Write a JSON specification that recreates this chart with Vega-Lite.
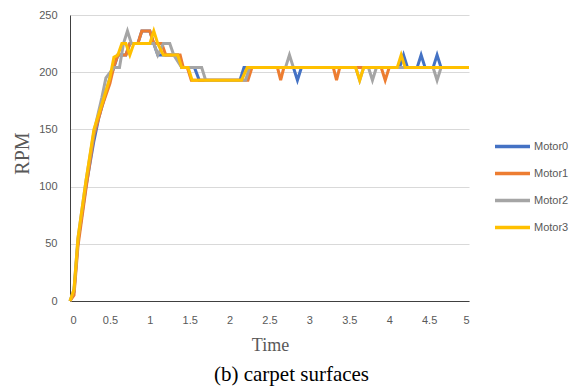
{
  "$schema": "https://vega.github.io/schema/vega-lite/v6.json",
  "autosize": {"type": "none"},
  "width": 399,
  "height": 286,
  "padding": {"left": 70, "top": 15, "right": 107, "bottom": 86},
  "background": "white",
  "title": {
    "text": "(b) carpet surfaces",
    "orient": "bottom",
    "anchor": "middle",
    "frame": "group",
    "dx": 22,
    "offset": 10,
    "font": "Liberation Serif",
    "fontSize": 21,
    "fontWeight": "normal",
    "color": "#000000"
  },
  "config": {
    "view": {"stroke": null},
    "axis": {
      "labelFont": "Liberation Sans",
      "labelFontSize": 11,
      "labelColor": "#595959",
      "titleFont": "Liberation Serif",
      "titleFontWeight": "normal",
      "titleColor": "#595959",
      "ticks": false,
      "domainColor": "#404040",
      "domainWidth": 1,
      "gridColor": "#d9d9d9",
      "gridWidth": 1
    },
    "legend": {
      "labelFont": "Liberation Sans",
      "labelFontSize": 11,
      "labelColor": "#595959"
    }
  },
  "data": {
    "values": [
      {"t":0,"m":"Motor0","v":0},{"t":0.05,"m":"Motor0","v":8},{"t":0.1,"m":"Motor0","v":52},{"t":0.2,"m":"Motor0","v":100},{"t":0.3,"m":"Motor0","v":140},{"t":0.36,"m":"Motor0","v":160},{"t":0.45,"m":"Motor0","v":182},{"t":0.5,"m":"Motor0","v":195},{"t":0.55,"m":"Motor0","v":204},{"t":0.6,"m":"Motor0","v":215},{"t":0.7,"m":"Motor0","v":215},{"t":0.75,"m":"Motor0","v":225},{"t":0.85,"m":"Motor0","v":225},{"t":0.9,"m":"Motor0","v":236},{"t":1.0,"m":"Motor0","v":236},{"t":1.05,"m":"Motor0","v":225},{"t":1.1,"m":"Motor0","v":215},{"t":1.35,"m":"Motor0","v":215},{"t":1.4,"m":"Motor0","v":204},{"t":1.56,"m":"Motor0","v":204},{"t":1.62,"m":"Motor0","v":193},{"t":2.13,"m":"Motor0","v":193},{"t":2.18,"m":"Motor0","v":204},{"t":2.8,"m":"Motor0","v":204},{"t":2.85,"m":"Motor0","v":193},{"t":2.9,"m":"Motor0","v":204},{"t":4.13,"m":"Motor0","v":204},{"t":4.18,"m":"Motor0","v":215},{"t":4.23,"m":"Motor0","v":204},{"t":4.35,"m":"Motor0","v":204},{"t":4.4,"m":"Motor0","v":215},{"t":4.45,"m":"Motor0","v":204},{"t":4.55,"m":"Motor0","v":204},{"t":4.6,"m":"Motor0","v":215},{"t":4.65,"m":"Motor0","v":204},{"t":5,"m":"Motor0","v":204},
      {"t":0,"m":"Motor1","v":0},{"t":0.05,"m":"Motor1","v":5},{"t":0.1,"m":"Motor1","v":48},{"t":0.2,"m":"Motor1","v":98},{"t":0.3,"m":"Motor1","v":145},{"t":0.4,"m":"Motor1","v":170},{"t":0.5,"m":"Motor1","v":190},{"t":0.55,"m":"Motor1","v":205},{"t":0.6,"m":"Motor1","v":215},{"t":0.7,"m":"Motor1","v":215},{"t":0.75,"m":"Motor1","v":225},{"t":0.85,"m":"Motor1","v":225},{"t":0.9,"m":"Motor1","v":236},{"t":1.0,"m":"Motor1","v":236},{"t":1.05,"m":"Motor1","v":225},{"t":1.15,"m":"Motor1","v":225},{"t":1.2,"m":"Motor1","v":215},{"t":1.38,"m":"Motor1","v":215},{"t":1.42,"m":"Motor1","v":204},{"t":1.47,"m":"Motor1","v":204},{"t":1.52,"m":"Motor1","v":193},{"t":2.23,"m":"Motor1","v":193},{"t":2.28,"m":"Motor1","v":204},{"t":2.6,"m":"Motor1","v":204},{"t":2.64,"m":"Motor1","v":193},{"t":2.68,"m":"Motor1","v":204},{"t":3.3,"m":"Motor1","v":204},{"t":3.34,"m":"Motor1","v":193},{"t":3.38,"m":"Motor1","v":204},{"t":3.9,"m":"Motor1","v":204},{"t":3.95,"m":"Motor1","v":193},{"t":4.0,"m":"Motor1","v":204},{"t":5,"m":"Motor1","v":204},
      {"t":0,"m":"Motor2","v":0},{"t":0.05,"m":"Motor2","v":10},{"t":0.1,"m":"Motor2","v":55},{"t":0.2,"m":"Motor2","v":105},{"t":0.3,"m":"Motor2","v":148},{"t":0.4,"m":"Motor2","v":178},{"t":0.45,"m":"Motor2","v":195},{"t":0.55,"m":"Motor2","v":204},{"t":0.62,"m":"Motor2","v":204},{"t":0.67,"m":"Motor2","v":225},{"t":0.72,"m":"Motor2","v":236},{"t":0.77,"m":"Motor2","v":225},{"t":1.05,"m":"Motor2","v":225},{"t":1.1,"m":"Motor2","v":215},{"t":1.17,"m":"Motor2","v":225},{"t":1.25,"m":"Motor2","v":225},{"t":1.3,"m":"Motor2","v":215},{"t":1.4,"m":"Motor2","v":204},{"t":1.65,"m":"Motor2","v":204},{"t":1.7,"m":"Motor2","v":193},{"t":2.2,"m":"Motor2","v":193},{"t":2.25,"m":"Motor2","v":204},{"t":2.7,"m":"Motor2","v":204},{"t":2.75,"m":"Motor2","v":215},{"t":2.8,"m":"Motor2","v":204},{"t":3.58,"m":"Motor2","v":204},{"t":3.63,"m":"Motor2","v":193},{"t":3.68,"m":"Motor2","v":204},{"t":3.74,"m":"Motor2","v":204},{"t":3.79,"m":"Motor2","v":193},{"t":3.84,"m":"Motor2","v":204},{"t":4.55,"m":"Motor2","v":204},{"t":4.6,"m":"Motor2","v":193},{"t":4.65,"m":"Motor2","v":204},{"t":5,"m":"Motor2","v":204},
      {"t":0,"m":"Motor3","v":0},{"t":0.05,"m":"Motor3","v":10},{"t":0.1,"m":"Motor3","v":55},{"t":0.2,"m":"Motor3","v":105},{"t":0.3,"m":"Motor3","v":150},{"t":0.4,"m":"Motor3","v":172},{"t":0.5,"m":"Motor3","v":195},{"t":0.55,"m":"Motor3","v":213},{"t":0.6,"m":"Motor3","v":215},{"t":0.65,"m":"Motor3","v":225},{"t":0.7,"m":"Motor3","v":225},{"t":0.75,"m":"Motor3","v":215},{"t":0.8,"m":"Motor3","v":225},{"t":1.0,"m":"Motor3","v":225},{"t":1.05,"m":"Motor3","v":236},{"t":1.1,"m":"Motor3","v":225},{"t":1.17,"m":"Motor3","v":215},{"t":1.35,"m":"Motor3","v":215},{"t":1.4,"m":"Motor3","v":204},{"t":1.48,"m":"Motor3","v":204},{"t":1.53,"m":"Motor3","v":193},{"t":2.15,"m":"Motor3","v":193},{"t":2.22,"m":"Motor3","v":204},{"t":3.58,"m":"Motor3","v":204},{"t":3.63,"m":"Motor3","v":193},{"t":3.68,"m":"Motor3","v":204},{"t":4.1,"m":"Motor3","v":204},{"t":4.15,"m":"Motor3","v":215},{"t":4.2,"m":"Motor3","v":204},{"t":5,"m":"Motor3","v":204}
    ]
  },
  "mark": {"type": "line", "strokeWidth": 3, "strokeJoin": "miter", "strokeCap": "butt"},
  "encoding": {
    "x": {
      "field": "t", "type": "quantitative",
      "scale": {"domain": [0, 5], "nice": false},
      "axis": {
        "values": [0, 0.5, 1, 1.5, 2, 2.5, 3, 3.5, 4, 4.5, 5],
        "format": "~g",
        "grid": false,
        "labelPadding": 13,
        "title": "Time",
        "titleFontSize": 18,
        "titleX": 200,
        "titleY": 44,
        "titleBaseline": "middle"
      }
    },
    "y": {
      "field": "v", "type": "quantitative",
      "scale": {"domain": [0, 250], "nice": false},
      "axis": {
        "values": [0, 50, 100, 150, 200, 250],
        "grid": true,
        "labelPadding": 13,
        "title": "RPM",
        "titleFontSize": 20,
        "titleX": -48,
        "titleY": 138,
        "titleAngle": -90,
        "titleAlign": "center",
        "titleBaseline": "middle"
      }
    },
    "color": {
      "field": "m", "type": "nominal",
      "scale": {"domain": ["Motor0", "Motor1", "Motor2", "Motor3"], "range": ["#4472C4", "#ED7D31", "#A5A5A5", "#FFC000"]},
      "legend": {
        "title": null,
        "orient": "none",
        "legendX": 423,
        "legendY": 112,
        "symbolType": "stroke",
        "symbolSize": 1225,
        "symbolStrokeWidth": 3.5,
        "rowPadding": -8.5,
        "labelOffset": 2
      }
    }
  }
}
